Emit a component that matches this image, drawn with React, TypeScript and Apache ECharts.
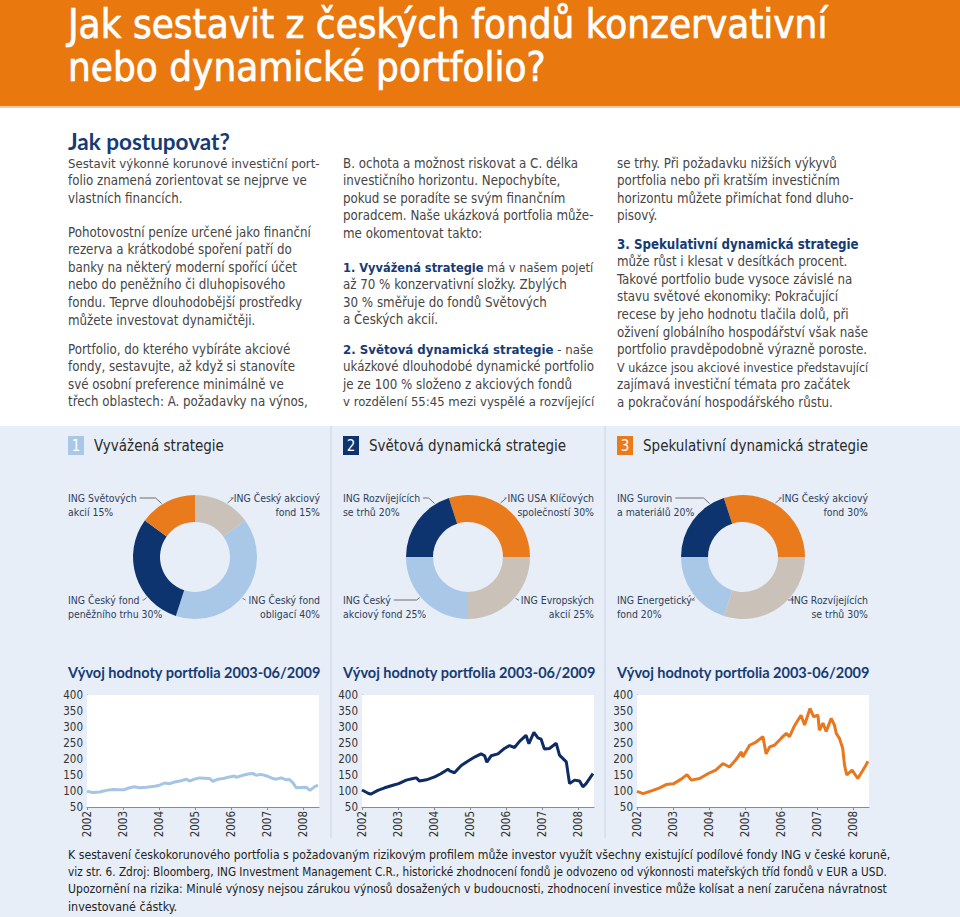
import React, { useEffect, useRef } from "react";
import * as echarts from "echarts";

const ORANGE = "#E9780F";
const NAVY = "#163B74";
const TEXT = "#454545";
const PANEL = "#E7EEF7";
const NARROW = "'Liberation Sans Narrow', 'Arial Narrow', 'DejaVu Sans Condensed', sans-serif";
const BOLDF = "Lato, 'Noto Sans', sans-serif";

const titleLines = ["Jak sestavit z českých fondů konzervativní", "nebo dynamické portfolio?"];
const introHeading = "Jak postupovat?";

const column1 = [
  ["Sestavit výkonné korunové investiční port-", "folio znamená zorientovat se nejprve ve", "vlastních financích."],
  [
    "Pohotovostní peníze určené jako finanční",
    "rezerva a krátkodobé spoření patří do",
    "banky na některý moderní spořící účet",
    "nebo do peněžního či dluhopisového",
    "fondu. Teprve dlouhodobější prostředky",
    "můžete investovat dynamičtěji.",
  ],
  [
    "Portfolio, do kterého vybíráte akciové",
    "fondy, sestavujte, až když si stanovíte",
    "své osobní preference minimálně ve",
    "třech oblastech: A. požadavky na výnos,",
  ],
];
const column2 = [
  [
    "B. ochota a možnost riskovat a C. délka",
    "investičního horizontu. Nepochybíte,",
    "pokud se poradíte se svým finančním",
    "poradcem. Naše ukázková portfolia může-",
    "me okomentovat takto:",
  ],
  ["{b|1. Vyvážená strategie} má v našem pojetí", "až 70 % konzervativní složky. Zbylých", "30 % směřuje do fondů Světových", "a Českých akcií."],
  [
    "{b|2. Světová dynamická strategie} - naše",
    "ukázkové dlouhodobé dynamické portfolio",
    "je ze 100 % složeno z akciových fondů",
    "v rozdělení 55:45 mezi vyspělé a rozvíjející",
  ],
];
const column3 = [
  ["se trhy. Při požadavku nižších výkyvů", "portfolia nebo při kratším investičním", "horizontu můžete přimíchat fond dluho-", "pisový."],
  [
    "{b|3. Spekulativní dynamická strategie}",
    "může růst i klesat v desítkách procent.",
    "Takové portfolio bude vysoce závislé na",
    "stavu světové ekonomiky: Pokračující",
    "recese by jeho hodnotu tlačila dolů, při",
    "oživení globálního hospodářství však naše",
    "portfolio pravděpodobně výrazně poroste.",
    "V ukázce jsou akciové investice představující",
    "zajímavá investiční témata pro začátek",
    "a pokračování hospodářského růstu.",
  ],
];

const strategyNumbers = ["1", "2", "3"];
const strategyNames = ["Vyvážená strategie", "Světová dynamická strategie", "Spekulativní dynamická strategie"];

const C_ORANGE = "#EA7B1C";
const C_BEIGE = "#CAC1B9";
const C_LIGHT = "#A9C7E7";
const C_NAVY = "#0E3470";
const strategyColors = [C_LIGHT, C_NAVY, C_ORANGE];

// slices in clockwise order; label corners follow: TR, BR, BL, TL
const pie1Names = [["ING Český akciový", "fond"], ["ING Český fond", "obligací"], ["ING Český fond", "peněžního trhu"], ["ING Světových", "akcií"]];
const pie1Values = [15, 40, 30, 15];
const pie1Colors = [C_BEIGE, C_LIGHT, C_NAVY, C_ORANGE];

const pie2Names = [["ING USA Klíčových", "společností"], ["ING Evropských", "akcií"], ["ING Český", "akciový fond"], ["ING Rozvíjejících", "se trhů"]];
const pie2Values = [30, 25, 25, 20];
const pie2Colors = [C_ORANGE, C_BEIGE, C_LIGHT, C_NAVY];

const pie3Names = [["ING Český akciový", "fond"], ["ING Rozvíjejících", "se trhů"], ["ING Energetický", "fond"], ["ING Surovin", "a materiálů"]];
const pie3Values = [30, 30, 20, 20];
const pie3Colors = [C_ORANGE, C_BEIGE, C_LIGHT, C_NAVY];

const chartTitle = "Vývoj hodnoty portfolia 2003-06/2009";

const line1Years = [2002.0, 2002.17, 2002.35, 2002.54, 2002.72, 2002.86, 2003.02, 2003.19, 2003.32, 2003.46, 2003.65, 2003.88, 2004.02, 2004.16, 2004.3, 2004.44, 2004.62, 2004.76, 2004.85, 2004.99, 2005.13, 2005.27, 2005.41, 2005.5, 2005.64, 2005.82, 2005.96, 2006.1, 2006.15, 2006.33, 2006.52, 2006.61, 2006.7, 2006.84, 2007.03, 2007.17, 2007.26, 2007.4, 2007.54, 2007.63, 2007.72, 2007.82, 2007.95, 2008.09, 2008.2, 2008.32, 2008.42];
const line1Values = [99, 95, 97, 102, 105, 104, 104, 110, 113, 110, 112, 115, 118, 125, 123, 128, 132, 137, 131, 137, 141, 140, 139, 130, 137, 140, 144, 147, 143, 149, 154, 155, 149, 152, 146, 139, 137, 141, 135, 136, 126, 110, 111, 112, 102, 113, 118];

const line2Years = [2002.0, 2002.17, 2002.24, 2002.44, 2002.63, 2002.86, 2003.02, 2003.23, 2003.42, 2003.51, 2003.6, 2003.79, 2004.02, 2004.19, 2004.39, 2004.44, 2004.57, 2004.76, 2004.94, 2005.13, 2005.31, 2005.41, 2005.47, 2005.59, 2005.78, 2005.96, 2006.1, 2006.24, 2006.38, 2006.56, 2006.64, 2006.78, 2006.89, 2006.98, 2007.07, 2007.21, 2007.4, 2007.49, 2007.68, 2007.77, 2007.91, 2008.05, 2008.14, 2008.23, 2008.42];
const line2Values = [103, 93, 90, 102, 110, 118, 123, 134, 139, 141, 131, 135, 144, 154, 168, 163, 157, 180, 193, 206, 216, 210, 190, 210, 216, 233, 242, 236, 255, 274, 248, 283, 266, 262, 231, 233, 249, 212, 191, 123, 134, 131, 113, 123, 154];

const line3Years = [2002.0, 2002.17, 2002.44, 2002.63, 2002.81, 2003.02, 2003.23, 2003.39, 2003.51, 2003.74, 2004.02, 2004.19, 2004.39, 2004.57, 2004.76, 2004.9, 2004.94, 2005.13, 2005.31, 2005.5, 2005.59, 2005.69, 2005.82, 2006.01, 2006.15, 2006.24, 2006.38, 2006.56, 2006.66, 2006.81, 2006.91, 2007.03, 2007.07, 2007.17, 2007.26, 2007.4, 2007.49, 2007.54, 2007.63, 2007.72, 2007.77, 2007.83, 2007.98, 2008.14, 2008.28, 2008.37, 2008.42];
const line3Values = [99, 92, 102, 110, 120, 123, 137, 151, 134, 139, 157, 165, 186, 175, 199, 222, 206, 243, 253, 270, 216, 238, 243, 265, 280, 270, 304, 337, 306, 358, 332, 337, 290, 312, 286, 327, 306, 280, 264, 233, 181, 150, 165, 139, 165, 182, 193];

const footerLines = [
  "K sestavení českokorunového portfolia s požadovaným rizikovým profilem může investor využít všechny existující podílové fondy ING v české koruně,",
  "viz str. 6. Zdroj: Bloomberg, ING Investment Management C.R., historické zhodnocení fondů je odvozeno od výkonnosti mateřských tříd fondů v EUR a USD.",
  "Upozornění na rizika: Minulé výnosy nejsou zárukou výnosů dosažených v budoucnosti, zhodnocení investice může kolísat a není zaručena návratnost",
  "investované částky.",
];

const colLeft = [68, 343, 617];
const colRight = [320, 594, 868];

let ctx2d: CanvasRenderingContext2D | null = null;
function measure(s: string, size: number, family: string, weight = "normal"): number {
  if (!ctx2d) ctx2d = document.createElement("canvas").getContext("2d");
  if (!ctx2d) return s.length * size * 0.5;
  ctx2d.font = `${weight} ${size}px ${family}`;
  return ctx2d.measureText(s).width;
}
// width of a line that may contain {b|...} rich parts
function richWidth(line: string, size: number, family: string): number {
  let w = 0;
  const re = /\{b\|([^}]*)\}/g;
  let last = 0;
  let m: RegExpExecArray | null;
  while ((m = re.exec(line))) {
    w += measure(line.slice(last, m.index), size, family);
    w += measure(m[1], size, family, "bold");
    last = m.index + m[0].length;
  }
  w += measure(line.slice(last), size, family);
  return w;
}
function fit(line: string, size: number, maxW: number, family = NARROW): number {
  const w = richWidth(line, size, family);
  return w > maxW ? Math.floor(((size * maxW) / w) * 10) / 10 : size;
}

function txt(x: number, y: number, text: string, o: any = {}) {
  return {
    type: "text",
    x,
    y,
    z: 50,
    silent: true,
    style: {
      text,
      fill: o.fill || TEXT,
      stroke: o.stroke,
      lineWidth: o.lineWidth,
      fontSize: o.fontSize || 13,
      fontFamily: o.fontFamily || NARROW,
      fontWeight: o.fontWeight || "normal",
      align: o.align || "left",
      verticalAlign: "middle",
      textAlign: o.align || "left",
      textVerticalAlign: "middle",
      rich: o.rich,
    },
  };
}

export default function App() {
  const ref = useRef<HTMLDivElement>(null);

  useEffect(() => {
    if (!ref.current) return;
    const chart = echarts.init(ref.current, null, { renderer: "svg" });
    const g: any[] = [];

    // backgrounds
    g.push({ type: "rect", z: -100, silent: true, shape: { x: 0, y: 0, width: 960, height: 106 }, style: { fill: ORANGE } });
    g.push({ type: "rect", z: -100, silent: true, shape: { x: 0, y: 106, width: 960, height: 2 }, style: { fill: "#F4C9A0" } });
    g.push({ type: "rect", z: -100, silent: true, shape: { x: 0, y: 426, width: 960, height: 491 }, style: { fill: PANEL } });
    [331, 605].forEach((x) =>
      g.push({ type: "line", z: -90, silent: true, shape: { x1: x, y1: 426, x2: x, y2: 838 }, style: { stroke: "#C7D4E6", lineWidth: 1 } })
    );

    // title
    titleLines.forEach((t, i) =>
      g.push(txt(68, 24 + i * 43, t, { fill: "#fff", stroke: "#fff", lineWidth: 0.7, fontSize: fit(t, 40, 760) }))
    );

    g.push(txt(68, 141, introHeading, { fill: NAVY, fontSize: 22.5, fontWeight: "bold", fontFamily: BOLDF }));

    const LH = 17.6;
    const BODY = 13.2;
    const addColumn = (col: string[][], x: number, starts: number[]) => {
      col.forEach((para, pi) =>
        para.forEach((line, li) => {
          const fs = fit(line, BODY, 252);
          g.push(
            txt(x, starts[pi] + li * LH, line, {
              fontSize: fs,
              rich: { b: { fontWeight: "bold", fill: NAVY, color: NAVY, fontSize: fs, fontFamily: NARROW } },
            })
          );
        })
      );
    };
    addColumn(column1, colLeft[0], [163, 232, 349]);
    addColumn(column2, colLeft[1], [163, 267, 349]);
    addColumn(column3, colLeft[2], [163, 244]);

    // strategy headers
    strategyNames.forEach((name, i) => {
      const x = colLeft[i];
      g.push({ type: "rect", z: 10, silent: true, shape: { x, y: 436, width: 16, height: 19 }, style: { fill: strategyColors[i] } });
      g.push(txt(x + 8, 446, strategyNumbers[i], { fill: "#fff", fontSize: 15, align: "center" }));
      g.push(txt(x + 26, 446, name, { fill: "#2A2A2A", fontSize: 15 }));
    });

    // donuts
    const pies = [
      { names: pie1Names, values: pie1Values, colors: pie1Colors, cx: 195, start: 90 },
      { names: pie2Names, values: pie2Values, colors: pie2Colors, cx: 468, start: 108 },
      { names: pie3Names, values: pie3Values, colors: pie3Colors, cx: 743, start: 108 },
    ];
    const cy = 557;
    const R0 = 35;
    const R1 = 62;
    const corners = [
      { key: "TR", ang: 31, y: 498 },
      { key: "BR", ang: 131, y: 600 },
      { key: "BL", ang: 230, y: 600 },
      { key: "TL", ang: -32, y: 498 },
    ];
    const LABEL_FONT = 10.4;
    const labelColor = "#2E3D5C";
    pies.forEach((p, pi) => {
      p.names.forEach((nm, k) => {
        const c = corners[k];
        const right = c.key[1] === "R";
        const lines = [nm[0], `${nm[1]} ${p.values[k]}%`];
        const x = right ? colRight[pi] : colLeft[pi];
        lines.forEach((l, li) =>
          g.push(txt(x, c.y + li * 14, l, { fontSize: LABEL_FONT, fill: labelColor, align: right ? "right" : "left" }))
        );
        const w = measure(nm[0], LABEL_FONT, NARROW);
        const a = (c.ang * Math.PI) / 180;
        const ex = p.cx + (R1 + 1) * Math.sin(a);
        const ey = cy - (R1 + 1) * Math.cos(a);
        const top = c.key[0] === "T";
        const elbowX = right ? ex + (top ? 6 : 3) : ex - (top ? 6 : 3);
        const sx = right ? x - w - 3 : x + w + 3;
        g.push({
          type: "polyline",
          z: 20,
          silent: true,
          shape: { points: [[sx, c.y], [elbowX, c.y], [ex, ey]] },
          style: { stroke: "#6E6E6E", lineWidth: 1, fill: null },
        });
      });
    });

    // chart titles
    colLeft.forEach((x) => g.push(txt(x, 672, chartTitle, { fill: NAVY, fontSize: 14.5, fontWeight: "bold", fontFamily: BOLDF })));

    // footer
    footerLines.forEach((l, i) => g.push(txt(68, 855 + i * 17, l, { fill: "#222", fontSize: fit(l, 12.4, 825) })));

    const gridLefts = [87, 362, 637];
    const lines = [
      { years: line1Years, values: line1Values, color: "#A6C5E5" },
      { years: line2Years, values: line2Values, color: "#0F2B66" },
      { years: line3Years, values: line3Values, color: "#E8771E" },
    ];

    const option: any = {
      animation: false,
      grid: gridLefts.map((l) => ({ left: l, top: 695, width: 232, height: 112, show: true, backgroundColor: "#fff", borderWidth: 0, z: 1 })),
      xAxis: gridLefts.map((_, i) => ({
        type: "value",
        gridIndex: i,
        min: 2002,
        max: 2008.45,
        interval: 1,
        axisLine: { show: true, lineStyle: { color: "#8A8A8A" } },
        axisTick: { show: true, length: 3, lineStyle: { color: "#8A8A8A" } },
        splitLine: { show: false },
        axisLabel: {
          rotate: 90,
          fontSize: 11.5,
          fontFamily: NARROW,
          color: "#333",
          margin: 4,
          showMaxLabel: false,
          formatter: (v: number) => (Number.isInteger(v) ? String(v) : ""),
        },
      })),
      yAxis: gridLefts.map((_, i) => ({
        type: "value",
        gridIndex: i,
        min: 50,
        max: 400,
        interval: 50,
        axisLine: { show: true, lineStyle: { color: "#8A8A8A" } },
        axisTick: { show: false },
        splitLine: { show: true, lineStyle: { color: "#9A9A9A", width: 1 } },
        axisLabel: { fontSize: 11.5, fontFamily: NARROW, color: "#333", margin: 4 },
      })),
      series: [
        ...lines.map((s, i) => ({
          type: "line",
          xAxisIndex: i,
          yAxisIndex: i,
          data: s.years.map((y, j) => [y, s.values[j]]),
          showSymbol: false,
          silent: true,
          z: 5,
          lineStyle: { width: 3, color: s.color },
        })),
        ...pies.map((p) => ({
          type: "pie",
          center: [p.cx, cy],
          radius: [R0, R1],
          startAngle: p.start,
          clockwise: true,
          silent: true,
          label: { show: false },
          labelLine: { show: false },
          emphasis: { disabled: true },
          data: p.names.map((n, k) => ({ name: `${n[0]} ${n[1]}`, value: p.values[k], itemStyle: { color: p.colors[k] } })),
        })),
      ],
      graphic: { elements: g },
    };
    chart.setOption(option);
    return () => chart.dispose();
  }, []);

  return <div ref={ref} style={{ position: "absolute", left: 0, top: 0, width: 960, height: 917 }} />;
}
